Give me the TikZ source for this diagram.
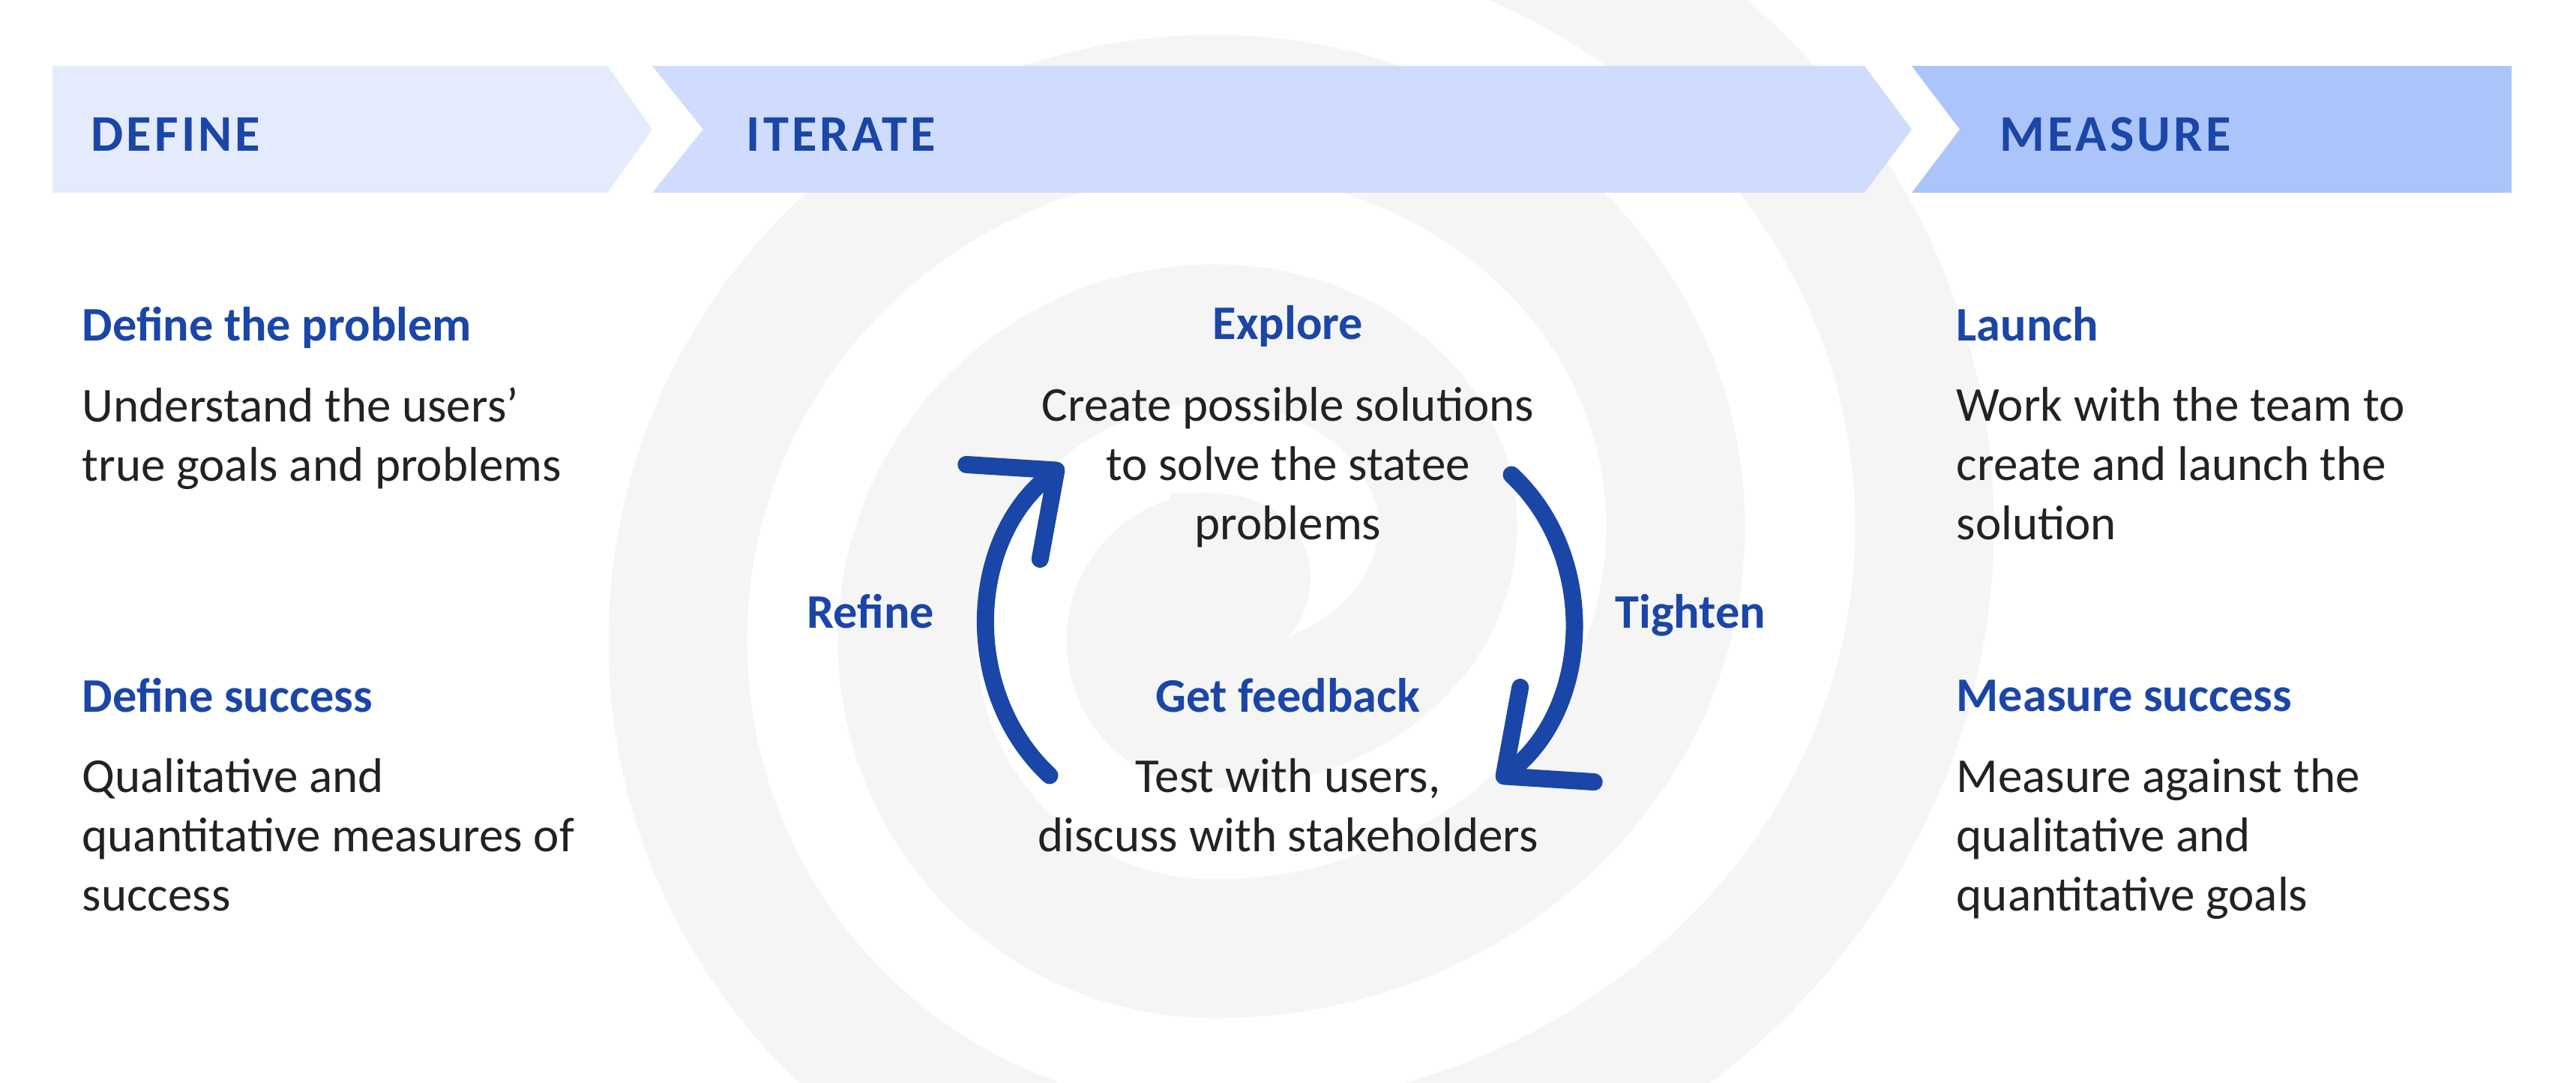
\documentclass[tikz,border=0pt]{standalone}
\usepackage{fontspec}
\setmainfont{Carlito}
\newfontfamily\capsfont{Carlito}[LetterSpace=6]
\usetikzlibrary{arrows.meta}
\definecolor{Ink_Blue}{HTML}{1A46A8}
\definecolor{Ink_Dark}{HTML}{222222}
\definecolor{Band_Define}{HTML}{E4EBFD}
\definecolor{Band_Iterate}{HTML}{CFDCFD}
\definecolor{Band_Measure}{HTML}{ABC4FA}
\definecolor{Swirl_Gray}{HTML}{F5F5F5}

\begin{document}
\begin{tikzpicture}[
    >={Straight Barb[round, length=0.9cm, width=1.6cm]},
    phase/.style={font=\capsfont\bfseries\fontsize{19.5}{22}\selectfont, text=Ink_Blue, anchor=base west, inner sep=0pt},
    head/.style={font=\bfseries\fontsize{18.3}{22}\selectfont, text=Ink_Blue, inner sep=0pt},
    body/.style={font=\fontsize{18.5}{22.5}\selectfont, text=Ink_Dark, inner sep=0pt},
    spin arrow/.style={draw=Ink_Blue, line width=0.23cm, line cap=round, ->}
]

\useasboundingbox (0,0) rectangle (34.36,14.44);
\fill[white] (0,0) rectangle (34.36,14.44);

% background swirl
\begin{scope}
    \clip (0,0) rectangle (34.36,14.44);
    \draw[Swirl_Gray, line width=1.85cm] (16.20,16.11)
        arc[start angle=90, end angle=-90, x radius=9.47, y radius=8.69]
        arc[start angle=-90, end angle=-270, radius=7.16]
        arc[start angle=90, end angle=-90, x radius=6.15, y radius=5.63]
        arc[start angle=-90, end angle=-270, radius=4.10]
        arc[start angle=90, end angle=-90, x radius=3.11, y radius=2.57]
        arc[start angle=-90, end angle=-270, radius=1.05];
    \fill[Swirl_Gray] (15.60,7.86) -- (16.20,7.86)
        .. controls (16.95,7.86) and (17.48,7.35) .. (17.48,6.74)
        .. controls (17.48,6.24) and (17.20,5.84) .. (16.68,5.59)
        -- (15.60,5.59) -- cycle;
\end{scope}

% phase chevrons
\fill[Band_Define] (0.70,13.56) -- (8.105,13.56) -- (8.70,12.715) -- (8.105,11.87) -- (0.70,11.87) -- cycle;
\fill[Band_Iterate] (8.70,13.56) -- (24.87,13.56) -- (25.50,12.715) -- (24.87,11.87) -- (8.70,11.87) -- (9.38,12.715) -- cycle;
\fill[Band_Measure] (25.50,13.56) -- (33.50,13.56) -- (33.50,11.87) -- (25.50,11.87) -- (26.14,12.715) -- cycle;

\node[phase] (define) at (1.21,12.42) {DEFINE};
\node[phase] (iterate) at (9.95,12.42) {ITERATE};
\node[phase] (measure) at (26.67,12.42) {MEASURE};

% define column (multi-line texts sit on their last baseline)
\node[head, anchor=base west] (problem) at (1.09,9.89) {Define the problem};
\node[body, anchor=base west, align=left] (problemTxt) at (1.09,8.025) {Understand the users’\\true goals and problems};
\node[head, anchor=base west] (success) at (1.09,4.94) {Define success};
\node[body, anchor=base west, align=left] (successTxt) at (1.09,2.29) {Qualitative and\\quantitative measures of\\success};

% iterate loop
\node[head, anchor=base] (explore) at (17.18,9.91) {Explore};
\node[body, anchor=base, align=center] (exploreTxt) at (17.18,7.24) {Create possible solutions\\to solve the statee\\problems};
\node[head, anchor=base] (feedback) at (17.18,4.94) {Get feedback};
\node[body, anchor=base, align=center] (feedbackTxt) at (17.18,3.08) {Test with users,\\discuss with stakeholders};
\node[head, anchor=base] (refine) at (11.61,6.06) {Refine};
\node[head, anchor=base] (tighten) at (22.55,6.06) {Tighten};

\coordinate (refineFrom) at (14.00,4.10);
\coordinate (refineTo) at (14.18,8.24);
\coordinate (tightenFrom) at (20.16,8.11);
\coordinate (tightenTo) at (19.97,4.02);
\draw[spin arrow] (refineFrom) to[out=137, in=218] (refineTo);
\draw[spin arrow] (tightenFrom) to[out=-43, in=38] (tightenTo);

% measure column
\node[head, anchor=base west] (launch) at (26.09,9.89) {Launch};
\node[body, anchor=base west, align=left] (launchTxt) at (26.09,7.24) {Work with the team to\\create and launch the\\solution};
\node[head, anchor=base west] (gauge) at (26.09,4.95) {Measure success};
\node[body, anchor=base west, align=left] (gaugeTxt) at (26.09,2.29) {Measure against the\\qualitative and\\quantitative goals};

\end{tikzpicture}
\end{document}
